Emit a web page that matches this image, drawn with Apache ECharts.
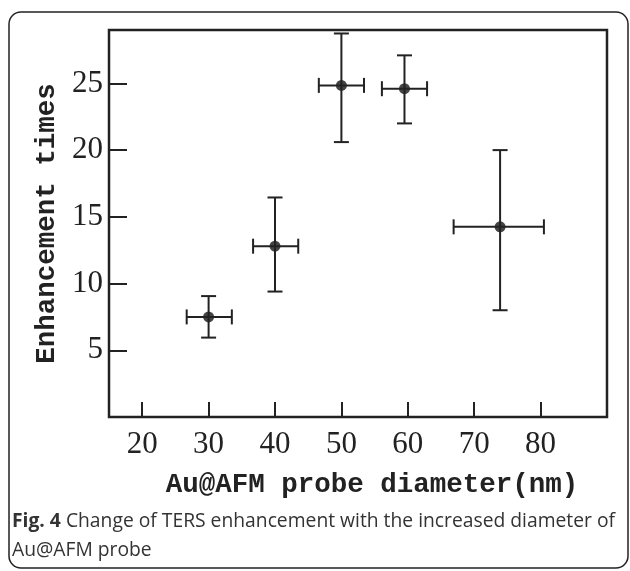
<!DOCTYPE html>
<html>
<head>
<meta charset="utf-8">
<script src="https://cdn.jsdelivr.net/npm/echarts@6/dist/echarts.min.js"></script>
<style>html,body{margin:0;padding:0;background:#fff;}#c{width:630px;height:571px;}</style>
</head>
<body>
<div id="c"></div>
<script>
// Data
var diameters = [30, 40, 50, 59.5, 73.9];          // nm (x)
var enhancement = [7.5, 12.8, 24.85, 24.6, 14.25];  // y
var yErrLow = [5.95, 9.4, 20.6, 22.0, 8.0];
var yErrHigh = [9.06, 16.45, 28.74, 27.1, 20.0];
var xErrLow = [26.7, 36.7, 46.6, 56.1, 66.9];
var xErrHigh = [33.5, 43.5, 53.4, 62.9, 80.5];
var xTicks = [20, 30, 40, 50, 60, 70, 80];
var yTicks = [5, 10, 15, 20, 25];

var xLabel = 'Au@AFM probe diameter(nm)';
var yLabel = 'Enhancement times';
var captionBold = 'Fig. 4';
var captionLine1 = ' Change of TERS enhancement with the increased diameter of';
var captionLine2 = 'Au@AFM probe';

var pts = diameters.map(function (d, i) { return [d, enhancement[i]]; });
var errData = diameters.map(function (d, i) {
  return [d, enhancement[i], yErrLow[i], yErrHigh[i], xErrLow[i], xErrHigh[i]];
});

var chart = echarts.init(document.getElementById('c'), null, {renderer: 'canvas'});
var lineStyle = {stroke: '#222', lineWidth: 2};
var cap = 7.5;

chart.setOption({
  animation: false,
  backgroundColor: '#fff',
  grid: {left: 109, right: 23, top: 30, bottom: 154, show: true, borderColor: '#222', borderWidth: 2.5, backgroundColor: 'transparent'},
  xAxis: {
    type: 'value', min: 15, max: 90,
    name: xLabel, nameLocation: 'middle', nameGap: 54,
    nameTextStyle: {fontFamily: 'Liberation Mono', fontWeight: 'bold', fontSize: 27.5, color: '#222', padding: [0, 0, 0, 28]},
    axisLine: {show: false},
    splitLine: {show: false},
    axisTick: {show: true, inside: true, length: 15, customValues: xTicks, lineStyle: {color: '#222', width: 2}},
    axisLabel: {customValues: xTicks, margin: 12, fontFamily: 'Liberation Serif', fontSize: 31, color: '#222'}
  },
  yAxis: {
    type: 'value', min: 0, max: 29,
    name: yLabel, nameLocation: 'middle', nameGap: 45, nameRotate: 90,
    nameTextStyle: {fontFamily: 'Liberation Mono', fontWeight: 'bold', fontSize: 27.5, color: '#222'},
    axisLine: {show: false},
    splitLine: {show: false},
    axisTick: {show: true, inside: true, length: 18, customValues: yTicks, lineStyle: {color: '#222', width: 2}},
    axisLabel: {customValues: yTicks, margin: 6, fontFamily: 'Liberation Serif', fontSize: 31, color: '#222'}
  },
  series: [
    {
      type: 'scatter', data: pts, symbol: 'circle', symbolSize: 11, z: 2,
      itemStyle: {color: '#444', opacity: 1}
    },
    {
      type: 'custom', z: 3, data: errData,
      renderItem: function (params, api) {
        var yl = api.coord([api.value(0), api.value(2)]);
        var yh = api.coord([api.value(0), api.value(3)]);
        var xl = api.coord([api.value(4), api.value(1)]);
        var xh = api.coord([api.value(5), api.value(1)]);
        var kids = [
          {type: 'line', shape: {x1: yl[0], y1: yl[1], x2: yh[0], y2: yh[1]}, style: lineStyle},
          {type: 'line', shape: {x1: yl[0] - cap, y1: yl[1], x2: yl[0] + cap, y2: yl[1]}, style: lineStyle},
          {type: 'line', shape: {x1: yh[0] - cap, y1: yh[1], x2: yh[0] + cap, y2: yh[1]}, style: lineStyle},
          {type: 'line', shape: {x1: xl[0], y1: xl[1], x2: xh[0], y2: xh[1]}, style: lineStyle},
          {type: 'line', shape: {x1: xl[0], y1: xl[1] - cap, x2: xl[0], y2: xl[1] + cap}, style: lineStyle},
          {type: 'line', shape: {x1: xh[0], y1: xh[1] - cap, x2: xh[0], y2: xh[1] + cap}, style: lineStyle}
        ];
        return {type: 'group', children: kids};
      }
    }
  ],
  graphic: [
    {type: 'rect', shape: {x: 9, y: 12, width: 619, height: 556, r: 12}, style: {fill: 'none', stroke: '#222', lineWidth: 1.5}, z: 0, silent: true},
    {type: 'text', left: 12, top: 512, style: {
      text: '{b|' + captionBold + '}{n|' + captionLine1 + '}',
      rich: {
        b: {fontFamily: 'Open Sans', fontWeight: 'bold', fontSize: 19.3, fill: '#333'},
        n: {fontFamily: 'Open Sans', fontSize: 19.3, fill: '#333'}
      }
    }},
    {type: 'text', left: 12, top: 541, style: {text: captionLine2, fontFamily: 'Open Sans', fontSize: 19.3, fill: '#333'}}
  ]
});
</script>
</body>
</html>
